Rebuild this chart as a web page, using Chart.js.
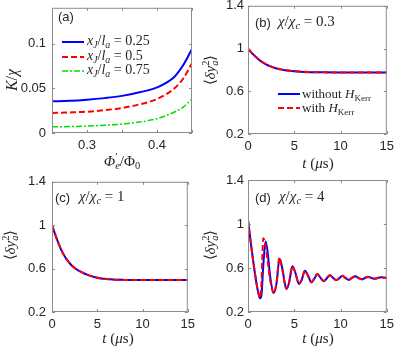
<!DOCTYPE html>
<html>
<head>
<meta charset="utf-8">
<script src="https://cdn.jsdelivr.net/npm/chart.js@4.4.0/dist/chart.umd.min.js"></script>
<style>
html, body { margin: 0; padding: 0; background: #fff; }
#wrap { position: relative; width: 399px; height: 351px; overflow: hidden; }
canvas { position: absolute; }
.t { position: absolute; white-space: nowrap; line-height: 1; color: #262626; }
.m { font-family: 'Liberation Serif', serif; font-style: italic; }
.m .r { font-style: normal; }
.sans { font-family: 'Liberation Sans', sans-serif; font-size: 13px; font-style: normal; }
.c { transform: translate(-50%, -50%); }
.rot { transform: translate(-50%, -50%) rotate(-90deg); }
sub { font-size: 70%; vertical-align: -0.3em; line-height: 0; }
sup { font-size: 70%; vertical-align: 0.5em; line-height: 0; }
.ss { display: inline-block; vertical-align: -0.3em; font-size: 70%; line-height: 0.9; }
.ss span { display: block; }
svg.ln { position: absolute; overflow: visible; }
</style>
</head>
<body>
<div id="wrap">
  <canvas id="ca"></canvas>
  <canvas id="cb"></canvas>
  <canvas id="cc"></canvas>
  <canvas id="cd"></canvas>

  <!-- panel (a) -->
  <div class="t sans" style="left:58px;top:10px">(a)</div>
  <svg class="ln" style="left:62px;top:42px" width="22" height="1"><line x1="0" y1="0" x2="22" y2="0" stroke="#0000ff" stroke-width="2"/></svg>
  <svg class="ln" style="left:62px;top:57px" width="22" height="1"><line x1="0" y1="0" x2="22" y2="0" stroke="#ff0000" stroke-width="2" stroke-dasharray="6 3"/></svg>
  <svg class="ln" style="left:62px;top:71px" width="22" height="1"><line x1="0" y1="0" x2="22" y2="0" stroke="#00e000" stroke-width="1.5" stroke-dasharray="6 2 2 2"/></svg>
  <div class="t m" style="left:87px;top:34px;font-size:14px">x<sub>J</sub><span class="r">/</span>l<sub>a</sub><span class="r"> = 0.25</span></div>
  <div class="t m" style="left:87px;top:49px;font-size:14px">x<sub>J</sub><span class="r">/</span>l<sub>a</sub><span class="r"> = 0.5</span></div>
  <div class="t m" style="left:87px;top:63px;font-size:14px">x<sub>J</sub><span class="r">/</span>l<sub>a</sub><span class="r"> = 0.75</span></div>
  <div class="t m rot" style="left:12px;top:80px;font-size:16px">K<span class="r">/</span>χ</div>
  <div class="t m c" style="left:122px;top:161px;font-size:15px">Φ<span class="ss"><span class="r">′</span><span>e</span></span><span class="r">/Φ</span><sub class="r">0</sub></div>

  <!-- panel (b) -->
  <div class="t sans" style="left:255px;top:16px">(b)</div>
  <div class="t m" style="left:278px;top:14px;font-size:15px">χ<span class="r">/</span>χ<sub>c</sub><span class="r"> = 0.3</span></div>
  <svg class="ln" style="left:278px;top:94px" width="22" height="1"><line x1="0" y1="0" x2="22" y2="0" stroke="#0000ff" stroke-width="2"/></svg>
  <svg class="ln" style="left:278px;top:108px" width="22" height="1"><line x1="0" y1="0" x2="22" y2="0" stroke="#ff0000" stroke-width="2" stroke-dasharray="6 3"/></svg>
  <div class="t m" style="left:302px;top:87px;font-size:13px"><span class="r">without </span>H<sub class="r">Kerr</sub></div>
  <div class="t m" style="left:302px;top:101px;font-size:13px"><span class="r">with </span>H<sub class="r">Kerr</sub></div>
  <div class="t m rot" style="left:210px;top:70px;font-size:15px"><span class="r">⟨</span>δy<span class="ss"><span class="r">2</span><span>a</span></span><span class="r">⟩</span></div>
  <div class="t m c" style="left:318px;top:163px;font-size:15px">t <span class="r">(</span>μ<span class="r">s)</span></div>

  <!-- panel (c) -->
  <div class="t sans" style="left:55px;top:191px">(c)</div>
  <div class="t m" style="left:79px;top:189px;font-size:15px">χ<span class="r">/</span>χ<sub>c</sub><span class="r"> = 1</span></div>
  <div class="t m rot" style="left:10px;top:245px;font-size:15px"><span class="r">⟨</span>δy<span class="ss"><span class="r">2</span><span>a</span></span><span class="r">⟩</span></div>
  <div class="t m c" style="left:118px;top:338px;font-size:15px">t <span class="r">(</span>μ<span class="r">s)</span></div>

  <!-- panel (d) -->
  <div class="t sans" style="left:255px;top:191px">(d)</div>
  <div class="t m" style="left:279px;top:189px;font-size:15px">χ<span class="r">/</span>χ<sub>c</sub><span class="r"> = 4</span></div>
  <div class="t m rot" style="left:210px;top:245px;font-size:15px"><span class="r">⟨</span>δy<span class="ss"><span class="r">2</span><span>a</span></span><span class="r">⟩</span></div>
  <div class="t m c" style="left:318px;top:338px;font-size:15px">t <span class="r">(</span>μ<span class="r">s)</span></div>
</div>

<script>
// (a) Kerr coefficient vs flux
const phiA = [0.25, 0.275, 0.3, 0.325, 0.35, 0.375, 0.4, 0.425, 0.4375, 0.45];
const kxj025 = [0.0355, 0.036, 0.0372, 0.039, 0.0415, 0.0455, 0.051, 0.063, 0.076, 0.094];
const kxj05 = [0.0225, 0.023, 0.0238, 0.0255, 0.028, 0.032, 0.038, 0.050, 0.061, 0.078];
const kxj075 = [0.007, 0.0072, 0.0078, 0.0087, 0.010, 0.0122, 0.016, 0.0235, 0.029, 0.038];
const xTicksA = [0.3, 0.4];

// (b) chi/chi_c = 0.3
const tB = [0, 0.5, 1, 1.5, 2, 2.5, 3, 3.5, 4, 5, 6, 7, 8, 10, 12, 15];
const noKerrB = [1.0, 0.95, 0.91, 0.875, 0.85, 0.83, 0.815, 0.805, 0.797, 0.787, 0.781, 0.778, 0.777, 0.776, 0.776, 0.776];
const kerrB = [1.0, 0.951, 0.911, 0.876, 0.851, 0.831, 0.816, 0.806, 0.798, 0.788, 0.782, 0.779, 0.777, 0.776, 0.776, 0.776];

// (c) chi/chi_c = 1
const tC = [0, 0.5, 1, 1.5, 2, 2.5, 3, 3.5, 4, 5, 6, 7, 8, 10, 12, 15];
const noKerrC = [1.0, 0.88, 0.775, 0.70, 0.645, 0.605, 0.578, 0.557, 0.54, 0.516, 0.504, 0.498, 0.496, 0.495, 0.495, 0.495];
const kerrC = [1.0, 0.881, 0.776, 0.701, 0.646, 0.606, 0.578, 0.557, 0.54, 0.516, 0.504, 0.498, 0.496, 0.495, 0.495, 0.495];

// (d) chi/chi_c = 4
const tD = [0, 0.3, 0.6, 0.9, 1.1, 1.3, 1.45, 1.65, 1.9, 2.1, 2.4, 2.8, 3.1, 3.4, 3.7, 4.15, 4.45, 4.8, 5.15, 5.5, 5.8, 6.15, 6.5, 6.85, 7.15, 7.5, 7.85, 8.2, 8.5, 8.85, 9.2, 9.55, 9.85, 10.2, 10.55, 10.9, 11.25, 11.6, 11.95, 12.3, 12.65, 13, 13.35, 13.7, 14.05, 14.4, 15];
const noKerrD = [1.03, 0.83, 0.64, 0.47, 0.38, 0.325, 0.35, 0.62, 0.84, 0.76, 0.52, 0.375, 0.47, 0.685, 0.6, 0.41, 0.47, 0.615, 0.55, 0.455, 0.49, 0.575, 0.53, 0.47, 0.5, 0.545, 0.51, 0.48, 0.505, 0.535, 0.51, 0.49, 0.505, 0.53, 0.51, 0.492, 0.51, 0.524, 0.51, 0.497, 0.51, 0.52, 0.51, 0.502, 0.51, 0.515, 0.508];
const kerrD = [1.04, 0.83, 0.64, 0.47, 0.38, 0.33, 0.45, 0.87, 0.8, 0.68, 0.49, 0.37, 0.48, 0.695, 0.59, 0.41, 0.475, 0.615, 0.545, 0.455, 0.495, 0.575, 0.525, 0.47, 0.505, 0.545, 0.505, 0.48, 0.51, 0.535, 0.505, 0.49, 0.51, 0.53, 0.505, 0.493, 0.513, 0.523, 0.507, 0.498, 0.512, 0.519, 0.508, 0.503, 0.511, 0.514, 0.508];

const BLUE = '#0000ff', RED = '#ff0000', GREEN = '#00e000';
const AXIS = '#8c8c8c';
const TICK_COLOR = '#262626';
const tickFont = { family: 'Liberation Sans', size: 13 };

const pts = (xs, ys) => xs.map((x, i) => ({ x, y: ys[i] }));

// matlab-ish box with inward ticks on all sides
const boxPlugin = {
    id: 'box',
    afterDraw(chart) {
        const { ctx, chartArea: a, scales: { x, y } } = chart;
        ctx.save();
        ctx.strokeStyle = AXIS;
        ctx.lineWidth = 1;
        ctx.strokeRect(a.left + 0.5, a.top + 0.5, a.right - a.left - 1, a.bottom - a.top - 1);
        ctx.beginPath();
        x.ticks.forEach(t => {
            const px = Math.round(x.getPixelForValue(t.value)) + 0.5;
            ctx.moveTo(px, a.bottom); ctx.lineTo(px, a.bottom - 3);
            ctx.moveTo(px, a.top); ctx.lineTo(px, a.top + 3);
        });
        y.ticks.forEach(t => {
            const py = Math.round(y.getPixelForValue(t.value)) + 0.5;
            ctx.moveTo(a.left, py); ctx.lineTo(a.left + 3, py);
            ctx.moveTo(a.right, py); ctx.lineTo(a.right - 3, py);
        });
        ctx.stroke();
        ctx.restore();
    }
};

function makeChart(id, rect, area, datasets, xs, ys) {
    const cv = document.getElementById(id);
    cv.width = rect.w;
    cv.height = rect.h;
    cv.style.left = rect.x + 'px';
    cv.style.top = rect.y + 'px';
    return new Chart(cv, {
        type: 'line',
        data: { datasets },
        options: {
            responsive: false,
            animation: false,
            devicePixelRatio: 1,
            layout: { padding: { left: 0, bottom: 0, top: area.t - rect.y, right: rect.x + rect.w - area.r } },
            plugins: { legend: { display: false }, tooltip: { enabled: false } },
            elements: { point: { radius: 0 }, line: { cubicInterpolationMode: 'monotone', fill: false } },
            scales: {
                x: {
                    type: 'linear', min: xs.min, max: xs.max,
                    grid: { display: false, drawTicks: false }, border: { display: false },
                    ticks: { stepSize: xs.step, padding: 5, font: tickFont, color: TICK_COLOR, maxRotation: 0, autoSkip: false, includeBounds: false, callback: xs.fmt },
                    afterFit: s => { s.height = rect.y + rect.h - area.b; }
                },
                y: {
                    type: 'linear', min: ys.min, max: ys.max,
                    grid: { display: false, drawTicks: false }, border: { display: false },
                    ticks: { stepSize: ys.step, padding: ys.pad, font: tickFont, color: TICK_COLOR, autoSkip: false, includeBounds: false, callback: ys.fmt },
                    afterFit: s => { s.width = area.l - rect.x; }
                }
            }
        },
        plugins: [boxPlugin]
    });
}

const fmtT = v => String(+v.toFixed(2));
const xT = { min: 0, max: 15, step: 5, fmt: fmtT };
const yT = { min: 0.2, max: 1.4, step: 0.4, pad: 4, fmt: fmtT };

const pair = (t, blue, red) => [
    { data: pts(t, red), borderColor: RED, borderWidth: 2, borderDash: [6, 3] },
    { data: pts(t, blue), borderColor: BLUE, borderWidth: 2 }
];

makeChart('ca', { x: 0, y: -6, w: 200, h: 181 }, { l: 52, r: 192, t: 4, b: 133 }, [
    { data: pts(phiA, kxj025), borderColor: BLUE, borderWidth: 2 },
    { data: pts(phiA, kxj05), borderColor: RED, borderWidth: 2, borderDash: [6, 3] },
    { data: pts(phiA, kxj075), borderColor: GREEN, borderWidth: 1.5, borderDash: [6, 2, 2, 2] }
], {
    min: 0.25, max: 0.45, step: 0.05,
    fmt: v => { const m = xTicksA.find(k => Math.abs(k - v) < 1e-6); return m === undefined ? '' : String(m); }
}, { min: 0, max: 0.14, step: 0.05, pad: 6, fmt: v => String(+v.toFixed(3)) });

makeChart('cb', { x: 200, y: -6, w: 199, h: 181 }, { l: 248, r: 389, t: 5, b: 134 }, pair(tB, noKerrB, kerrB), xT, yT);
makeChart('cc', { x: 0, y: 168, w: 200, h: 183 }, { l: 52, r: 191, t: 180, b: 312 }, pair(tC, noKerrC, kerrC), xT, { ...yT, pad: 6 });
makeChart('cd', { x: 200, y: 168, w: 199, h: 183 }, { l: 248, r: 389, t: 180, b: 312 }, pair(tD, noKerrD, kerrD), xT, yT);
</script>
</body>
</html>
